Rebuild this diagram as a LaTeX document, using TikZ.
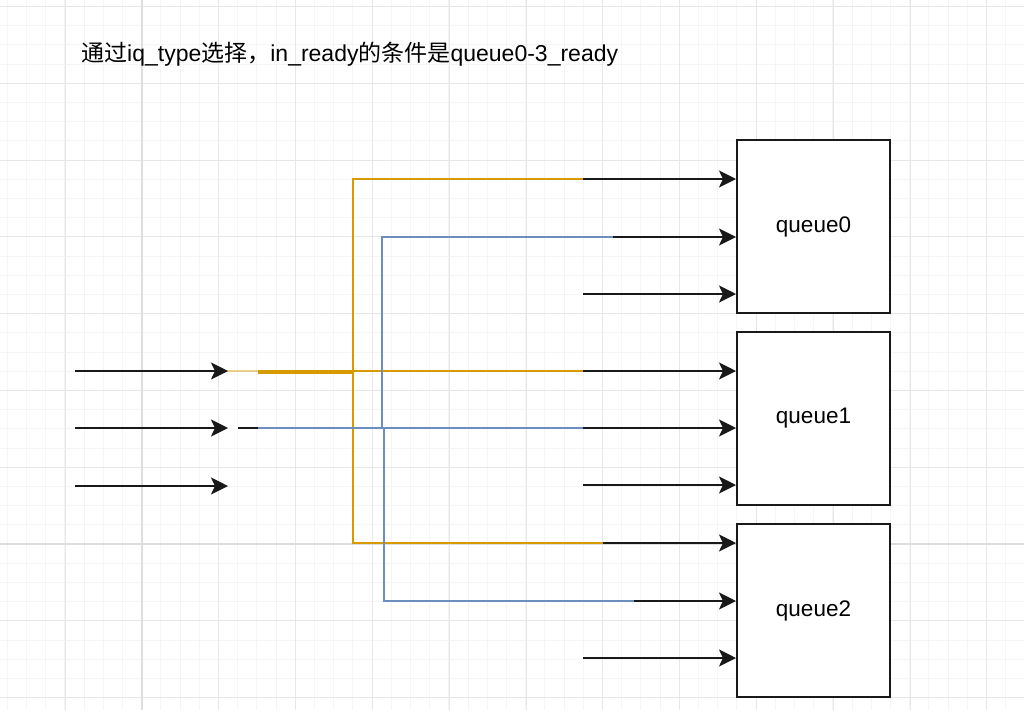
\documentclass[tikz,border=0pt]{standalone}
\usepackage{fontspec}
\setmainfont{Liberation Sans}
\newfontfamily\cjk{Noto Sans CJK SC}
\usetikzlibrary{arrows.meta}
\definecolor{gminor}{HTML}{F5F5F5}
\definecolor{gmajor}{HTML}{E7E7E7}
\definecolor{gpage}{HTML}{DEDEDE}
\definecolor{yelc}{HTML}{D79B00}
\definecolor{bluc}{HTML}{6C8EBF}
\tikzset{
  qbox/.style={draw=black!90, line width=2pt, fill=white, minimum width=153pt, minimum height=173pt, inner sep=0pt, font=\fontsize{22.5}{26}\selectfont},
  arr/.style={draw=black!90, line width=2.2pt, -{Stealth[length=17pt,width=17pt,inset=4pt]}},
  yel/.style={draw=yelc, line width=2pt},
  blu/.style={draw=bluc, line width=2pt},
  minorline/.style={draw=gminor, line width=1pt},
  majorline/.style={draw=gmajor, line width=1pt},
  pageline/.style={draw=gpage, line width=1.6pt}
}
\begin{document}
\begin{tikzpicture}[x=1pt,y=-1pt]
\useasboundingbox (0,0) rectangle (1024,710);
\fill[white] (0,0) rectangle (1024,710);
% grid
\foreach \i in {0,...,53} { \draw[minorline] ({7.3+19.2*\i},0) -- ++(0,710); }
\foreach \i in {0,...,37} { \draw[minorline] (0,{6.5+19.2*\i}) -- ++(1024,0); }
\foreach \i in {0,...,12} { \draw[majorline] ({65.3+76.8*\i},0) -- ++(0,710); }
\foreach \i in {0,...,9} { \draw[majorline] (0,{6.5+76.8*\i}) -- ++(1024,0); }
\draw[pageline] (142.1,0) -- (142.1,710);
\draw[pageline] (0,544.1) -- (1024,544.1);

% title
\node[anchor=base west, inner sep=0pt, font=\fontsize{23}{26}\selectfont] (title) at (81,61)
  {{\cjk 通过}iq\_type{\cjk 选择，}in\_ready{\cjk 的条件是}queue0-3\_ready};

% queues
\node[qbox] (q0) at (813.5,226.5) {\raisebox{-2pt}{queue0}};
\node[qbox] (q1) at (813.5,418.5) {\raisebox{-2pt}{queue1}};
\node[qbox] (q2) at (813.5,610.5) {\raisebox{-2pt}{queue2}};

% input arrows
\coordinate (in0s) at (75,371);  \coordinate (in0) at (228,371);
\coordinate (in1s) at (75,428);  \coordinate (in1) at (228,428);
\coordinate (in2s) at (75,486);  \coordinate (in2) at (228,486);

% queue arrow starts
\coordinate (a00) at (583,179); \coordinate (a01) at (613,237); \coordinate (a02) at (583,294);
\coordinate (a10) at (583,371); \coordinate (a11) at (583,428); \coordinate (a12) at (583,485);
\coordinate (a20) at (603,543); \coordinate (a21) at (634,601); \coordinate (a22) at (583,658);

% yellow connectors
\coordinate (y0a) at (208,371);
\coordinate (y0s) at (258,372.5);
\coordinate (yx) at (353,372.5);
\draw[yel, opacity=0.45] (y0a) -- (y0s |- y0a);
\draw[yel] (y0s |- y0a) -- (a10);
\draw[yel] (y0s) -- (yx) |- (a00);
\draw[yel] (y0s) -- (yx) |- (a20);

% blue connectors
\coordinate (b0s) at (238,428);
\coordinate (b0k) at (258,428);
\coordinate (bx1) at (382,428);
\coordinate (bx2) at (384,428);
\draw[blu] (b0s) -- (a11);
\draw[blu] (b0s) -- (bx1) |- (a01);
\draw[blu] (b0s) -- (bx2) |- (a21);
\draw[draw=black!90, line width=2pt] (b0s) -- (b0k);

% input arrows drawn
\draw[arr] (in0s) -- (in0);
\draw[arr] (in1s) -- (in1);
\draw[arr] (in2s) -- (in2);

% arrows into queues
\draw[arr] (a00) -- (a00 -| q0.west);
\draw[arr] (a01) -- (a01 -| q0.west);
\draw[arr] (a02) -- (a02 -| q0.west);
\draw[arr] (a10) -- (a10 -| q1.west);
\draw[arr] (a11) -- (a11 -| q1.west);
\draw[arr] (a12) -- (a12 -| q1.west);
\draw[arr] (a20) -- (a20 -| q2.west);
\draw[arr] (a21) -- (a21 -| q2.west);
\draw[arr] (a22) -- (a22 -| q2.west);
\end{tikzpicture}
\end{document}
